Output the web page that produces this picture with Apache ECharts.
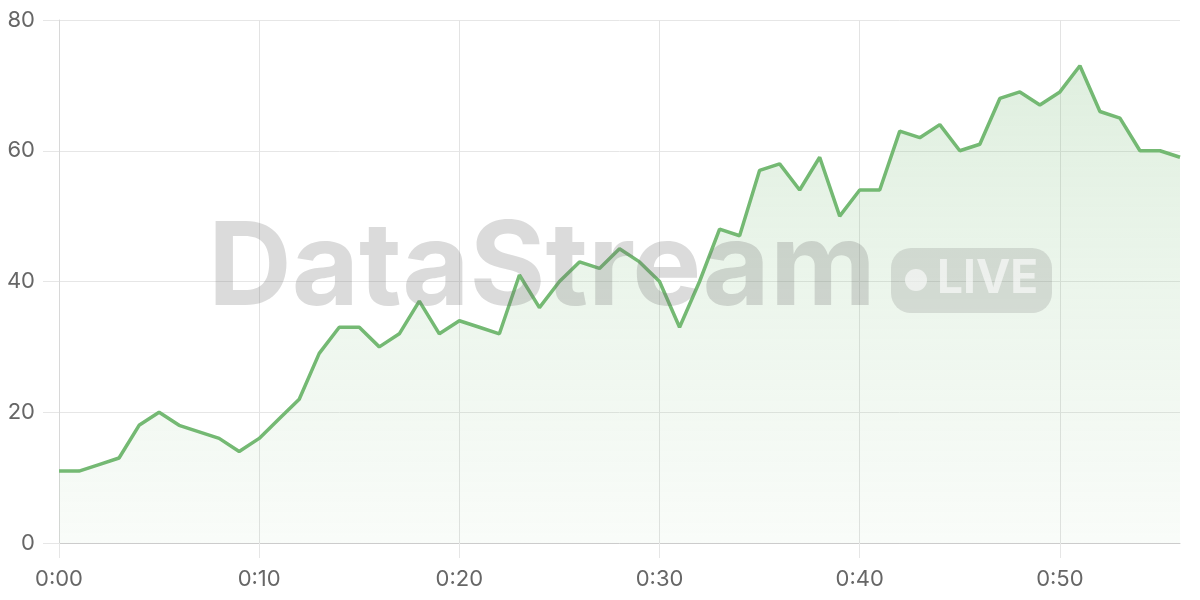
<!DOCTYPE html>
<html><head><meta charset="utf-8">
<script src="https://cdn.jsdelivr.net/npm/echarts@6/dist/echarts.min.js"></script>
<style>html,body{margin:0;padding:0;background:#fff}#c{width:1200px;height:600px}</style>
</head><body><div id="c"></div>
<script>
const categories = [];
for (let m = 0; m <= 56; m++) categories.push('0:' + String(m).padStart(2, '0'));
const values = [11,11,12,13,18,20,18,17,16,14,16,19,22,29,33,33,30,32,37,32,34,33,32,41,36,40,43,42,45,43,40,33,40,48,47,57,58,54,59,50,54,54,63,62,64,60,61,68,69,67,69,73,66,65,60,60,59];
const yTicks = [0, 20, 40, 60, 80];

const chart = echarts.init(document.getElementById('c'));
chart.setOption({
  animation: false,
  grid: { left: 59, right: 20, top: 20, bottom: 57, containLabel: false },
  xAxis: {
    type: 'category', data: categories, boundaryGap: false,
    axisLine: { lineStyle: { color: '#cccccc', width: 1 } },
    axisTick: { show: true, interval: 9, length: 15, lineStyle: { color: '#e6e6e6' } },
    axisLabel: { interval: 9, color: '#666', fontSize: 22, fontFamily: 'Inter', margin: 25 },
    splitLine: { show: true, interval: 9, lineStyle: { color: '#e3e3e3' } }
  },
  yAxis: {
    type: 'value', min: 0, max: 80, interval: 20,
    axisLine: { show: true, lineStyle: { color: '#d8d8d8' } },
    axisTick: { show: true, length: 16, lineStyle: { color: '#e6e6e6' } },
    axisLabel: { color: '#666', fontSize: 22, fontFamily: 'Inter', margin: 24, formatter: v => yTicks.includes(v) ? String(v) : '' },
    splitLine: { lineStyle: { color: '#e6e6e6' } }
  },
  series: [{
    type: 'line', data: values, symbol: 'none',
    lineStyle: { color: '#74b973', width: 3.5 },
    areaStyle: { color: new echarts.graphic.LinearGradient(0, 0, 0, 1, [
      { offset: 0, color: 'rgba(116,185,115,0.32)' },
      { offset: 1, color: 'rgba(116,185,115,0.06)' }
    ]) }
  }],
  graphic: [
    { type: 'text', left: 208, top: 212, z: 100, silent: true,
      style: { text: 'DataStream', fontSize: 116, fontWeight: 'bold', fontFamily: 'Inter', fill: 'rgba(110,110,110,0.25)' } },
    { type: 'rect', z: 100, silent: true, shape: { x: 891, y: 248, width: 161, height: 65, r: 20 },
      style: { fill: 'rgba(110,110,110,0.2)' } },
    { type: 'circle', z: 101, silent: true, shape: { cx: 916, cy: 280, r: 11 },
      style: { fill: 'rgba(255,255,255,0.6)' } },
    { type: 'text', z: 101, silent: true, left: 937, top: 256,
      style: { text: 'LIVE', fontSize: 46, fontWeight: 'bold', fontFamily: 'Inter', fill: 'rgba(255,255,255,0.6)' } }
  ]
});
</script></body></html>
